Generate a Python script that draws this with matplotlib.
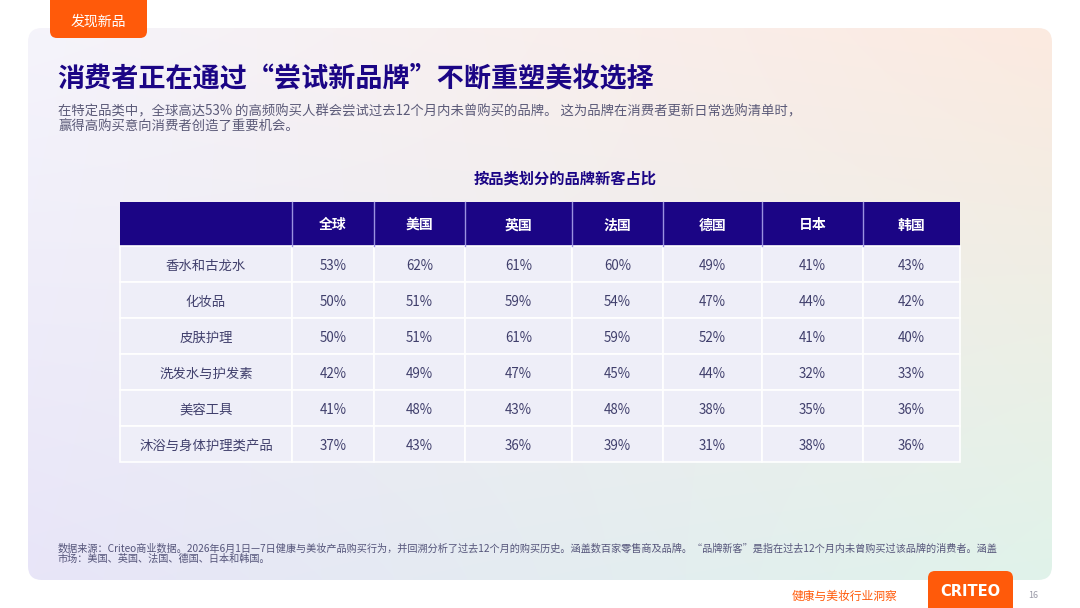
import numpy as np
import matplotlib
matplotlib.use("Agg")
import matplotlib.pyplot as plt
from matplotlib.patches import FancyBboxPatch, Rectangle

plt.rcParams['font.family'] = ['Noto Sans CJK SC', 'DejaVu Sans']

# 数据
categories = ["香水和古龙水", "化妆品", "皮肤护理", "洗发水与护发素", "美容工具", "沐浴与身体护理类产品"]
markets = ["全球", "美国", "英国", "法国", "德国", "日本", "韩国"]
values = [
    [53, 62, 61, 60, 49, 41, 43],
    [50, 51, 59, 54, 47, 44, 42],
    [50, 51, 61, 59, 52, 41, 40],
    [42, 49, 47, 45, 44, 32, 33],
    [41, 48, 43, 48, 38, 35, 36],
    [37, 43, 36, 39, 31, 38, 36],
]

title = "消费者正在通过“尝试新品牌”不断重塑美妆选择"
subtitle = ["在特定品类中，全球高达53% 的高频购买人群会尝试过去12个月内未曾购买的品牌。 这为品牌在消费者更新日常选购清单时，",
            "赢得高购买意向消费者创造了重要机会。"]
table_title = "按品类划分的品牌新客占比"
footnote = ["数据来源：Criteo商业数据。2026年6月1日—7日健康与美妆产品购买行为，并回溯分析了过去12个月的购买历史。涵盖数百家零售商及品牌。“品牌新客”是指在过去12个月内未曾购买过该品牌的消费者。涵盖",
            "市场：美国、英国、法国、德国、日本和韩国。"]

NAVY = "#1b0585"
ORANGE = "#ff5a0a"
CELL_TXT = "#403f6c"

W, H = 1080, 608
fig = plt.figure(figsize=(W / 100, H / 100), dpi=100)
ax = fig.add_axes([0, 0, 1, 1])
ax.set_xlim(0, W)
ax.set_ylim(H, 0)
ax.axis('off')

# 背景面板（渐变）
panel = FancyBboxPatch((28, 28), 1024, 552, boxstyle="round,pad=0,rounding_size=14",
                       facecolor='none', edgecolor='none', zorder=1)
ax.add_patch(panel)
tl = np.array([245, 244, 251]) / 255
tr = np.array([252, 234, 224]) / 255
bl = np.array([232, 229, 248]) / 255
br = np.array([224, 243, 234]) / 255
u = np.linspace(0, 1, 200)[None, :, None]
v = np.linspace(0, 1, 120)[:, None, None]
grad = (1 - v) * ((1 - u) * tl + u * tr) + v * ((1 - u) * bl + u * br)
im = ax.imshow(grad, extent=(28, 1052, 580, 28), aspect='auto', zorder=1, interpolation='bilinear')
im.set_clip_path(panel)
ax.set_xlim(0, W)
ax.set_ylim(H, 0)

# 顶部标签
tab = FancyBboxPatch((50, -12), 97, 50, boxstyle="round,pad=0,rounding_size=7",
                     facecolor=ORANGE, edgecolor='none', zorder=3)
ax.add_patch(tab)
ax.text(98, 22, "发现新品", color='white', fontsize=10, ha='center', va='center', zorder=4)

# 标题
ax.text(57, 78, title, color=NAVY, fontsize=19.5, fontweight='bold', ha='left', va='center', zorder=4)
ax.text(58, 111, subtitle[0], color="#5b5a78", fontsize=9.6, ha='left', va='center', zorder=4)
ax.text(58, 127, subtitle[1], color="#5b5a78", fontsize=9.6, ha='left', va='center', zorder=4)

ax.text(565, 178, table_title, color=NAVY, fontsize=11, fontweight='bold', ha='center', va='center', zorder=4)

# 表格
col_edges = [120, 292, 374, 465, 572, 663, 762, 863, 960]
header_top, header_h, row_h = 202, 44, 36

ax.add_patch(Rectangle((col_edges[0], header_top), col_edges[-1] - col_edges[0], header_h,
                       facecolor=NAVY, edgecolor='none', zorder=3))
for j, m in enumerate(markets):
    x0 = col_edges[j + 1]
    ax.plot([x0, x0], [header_top, header_top + header_h], color="#9a92e0", lw=1, zorder=4)
    xc = (col_edges[j + 1] + col_edges[j + 2]) / 2
    ax.text(xc, header_top + header_h / 2 + 1.5, m, color='white', fontsize=10, fontweight='bold',
            ha='center', va='center', zorder=5)

for i, cat in enumerate(categories):
    y0 = header_top + header_h + i * row_h
    for j in range(len(markets) + 1):
        ax.add_patch(Rectangle((col_edges[j], y0), col_edges[j + 1] - col_edges[j], row_h,
                               facecolor="#eeeef8", edgecolor='white', lw=1.2, zorder=3))
    ax.text((col_edges[0] + col_edges[1]) / 2, y0 + row_h / 2 + 2, cat, color=CELL_TXT, fontsize=9.6,
            ha='center', va='center', zorder=5)
    for j, val in enumerate(values[i]):
        xc = (col_edges[j + 1] + col_edges[j + 2]) / 2
        ax.text(xc, y0 + row_h / 2 + 2, f"{val}%", color=CELL_TXT, fontsize=9.6,
                ha='center', va='center', zorder=5)

# 脚注
ax.text(58, 549, footnote[0], color="#55557a", fontsize=7.3, ha='left', va='center', zorder=4)
ax.text(58, 559, footnote[1], color="#55557a", fontsize=7.3, ha='left', va='center', zorder=4)

# 页脚
ax.text(844, 596, "健康与美妆行业洞察", color=ORANGE, fontsize=8.5, ha='center', va='center', zorder=4)
logo = FancyBboxPatch((928, 571), 85, 50, boxstyle="round,pad=0,rounding_size=7",
                      facecolor=ORANGE, edgecolor='none', zorder=3)
ax.add_patch(logo)
ax.text(970.5, 591, "CRITEO", color='white', fontsize=10.5, fontweight='bold',
        family='DejaVu Sans', ha='center', va='center', zorder=4)
ax.text(1033, 595, "16", color="#9a9aa8", fontsize=6.5, ha='center', va='center', zorder=4)

fig.savefig("out.png", dpi=100)
